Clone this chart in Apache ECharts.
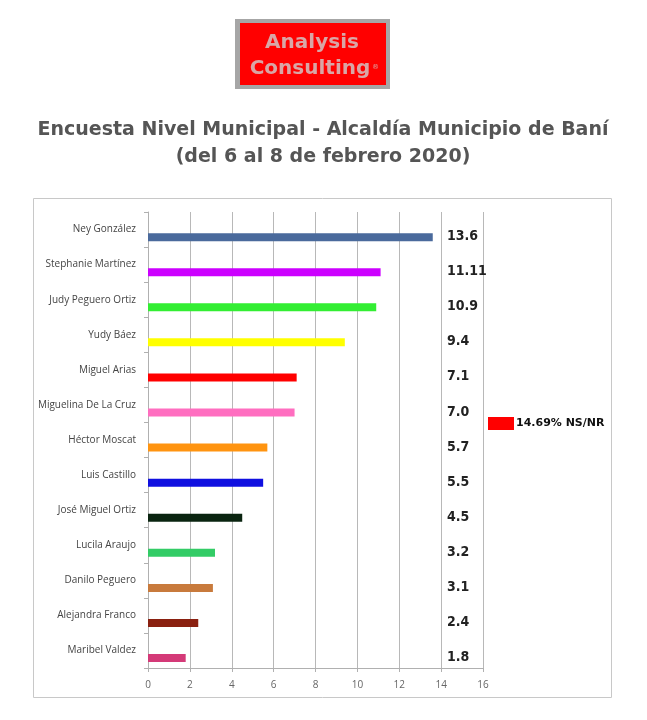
<!DOCTYPE html>
<html><head><meta charset="utf-8">
<script src="https://cdn.jsdelivr.net/npm/echarts@6/dist/echarts.min.js"></script>
<style>html,body{margin:0;padding:0;background:#fff}#c{width:647px;height:720px}</style>
</head><body><div id="c"></div>
<script>
var categories = ['Ney González','Stephanie Martínez','Judy Peguero Ortiz','Yudy Báez','Miguel Arias','Miguelina De La Cruz','Héctor Moscat','Luis Castillo','José Miguel Ortiz','Lucila Araujo','Danilo Peguero','Alejandra Franco','Maribel Valdez'];
var values = [13.6, 11.11, 10.9, 9.4, 7.1, 7.0, 5.7, 5.5, 4.5, 3.2, 3.1, 2.4, 1.8];
var valueLabels = ['13.6','11.11','10.9','9.4','7.1','7.0','5.7','5.5','4.5','3.2','3.1','2.4','1.8'];
var barColors = ['#4a6a9c','#cc00ff','#33ee33','#ffff00','#ff0000','#ff6ec0','#ff9410','#1010e0','#0a2410','#33cc66','#c87a3c','#8a2010','#d43a78'];
var xTicks = [0,2,4,6,8,10,12,14,16];
var nsnrLabel = '14.69% NS/NR';

var chart = echarts.init(document.getElementById('c'), null, {renderer:'canvas'});
chart.setOption({
  backgroundColor:'#fff',
  animation:false,
  title:{
    text:'Encuesta Nivel Municipal - Alcaldía Municipio de Baní\n(del 6 al 8 de febrero 2020)',
    left:318, top:112, textAlign:'center',
    textStyle:{fontFamily:'DejaVu Sans', fontWeight:'bold', fontSize:19, color:'#555', lineHeight:27, align:'center'}
  },
  legend:{
    data:[nsnrLabel], left:483, top:412, orient:'vertical',
    itemWidth:26, itemHeight:13, itemGap:2, icon:'rect', selectedMode:false,
    textStyle:{fontFamily:'DejaVu Sans', fontWeight:'bold', fontSize:11, color:'#111', padding:[0,0,0,-3]}
  },
  graphic:[
    {type:'rect', shape:{x:33.5,y:198.5,width:578,height:499}, style:{fill:'none', stroke:'#c8c8c8', lineWidth:1}},
    {type:'rect', shape:{x:235,y:19,width:155,height:70}, style:{fill:'#a6a6a6'}},
    {type:'rect', shape:{x:240,y:23,width:146,height:62}, style:{fill:'#ff0000'}},
    {type:'text', style:{x:312,y:43,text:'Analysis',textAlign:'center',textVerticalAlign:'middle',fontFamily:'DejaVu Sans',fontWeight:'bold',fontSize:20,fill:'#d9a6a6'}},
    {type:'text', style:{x:310,y:69,text:'Consulting',textAlign:'center',textVerticalAlign:'middle',fontFamily:'DejaVu Sans',fontWeight:'bold',fontSize:20,fill:'#d9a6a6'}},
    {type:'text', style:{x:372,y:67,text:'®',textAlign:'left',textVerticalAlign:'middle',fontFamily:'DejaVu Sans',fontSize:7,fill:'#d9a6a6'}}
  ],
  grid:{left:148, right:164, top:212, bottom:52, containLabel:false},
  xAxis:{
    type:'value', min:0, max:16, interval:2,
    axisLine:{show:true, lineStyle:{color:'#b0b0b0'}},
    axisTick:{show:true, length:4, lineStyle:{color:'#b0b0b0'}},
    splitLine:{show:true, lineStyle:{color:'#b8b8b8', width:1}},
    axisLabel:{color:'#666', fontFamily:'Open Sans', fontSize:10, margin:12}
  },
  yAxis:[{
    type:'category', data:categories, inverse:true,
    axisLine:{show:true, lineStyle:{color:'#b0b0b0'}},
    axisTick:{show:true, length:4, lineStyle:{color:'#b0b0b0'}},
    axisLabel:{color:'#444', fontFamily:'Open Sans', fontSize:10, margin:12}
  },{
    type:'category', data:valueLabels, inverse:true, position:'left', offset:-293,
    axisLine:{show:false}, axisTick:{show:false},
    axisLabel:{inside:true, margin:6, color:'#222', fontFamily:'DejaVu Sans Condensed', fontWeight:'bold', fontSize:14, verticalAlign:'top'}
  }],
  series:[
    {name:nsnrLabel, type:'bar', yAxisIndex:0, data:values.map(function(){return 0;}), itemStyle:{color:'#ff0000'}, barWidth:8, barGap:'90%', silent:true},
    {name:'valor', type:'bar', yAxisIndex:0, barWidth:8, barGap:'90%',
     data:values.map(function(v,i){return {value:v, itemStyle:{color:barColors[i]}};})}
  ]
});
</script></body></html>
